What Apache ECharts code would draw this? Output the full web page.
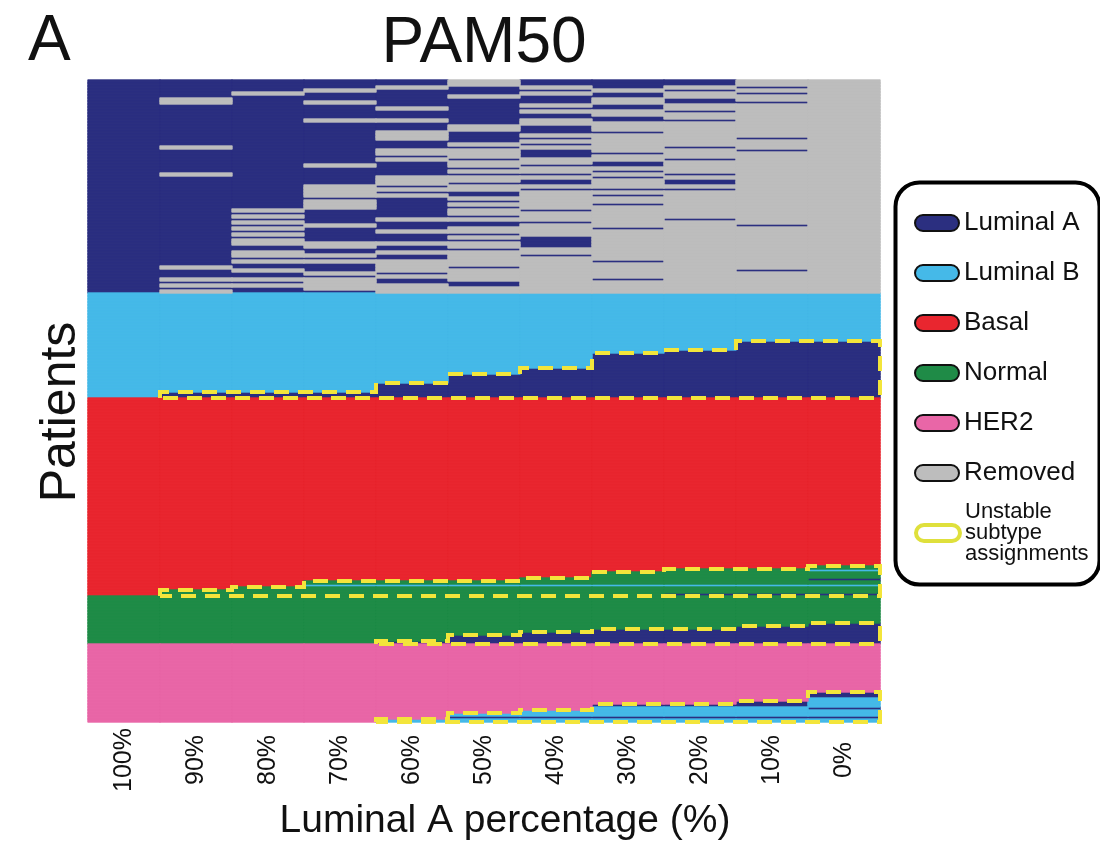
<!DOCTYPE html>
<html>
<head>
<meta charset="utf-8">
<script src="https://cdn.jsdelivr.net/npm/echarts@6/dist/echarts.min.js"></script>
<style>
  html, body { margin: 0; padding: 0; background: #ffffff; }
  #chart { width: 1100px; height: 842px; }
</style>
</head>
<body>
<div id="chart"></div>
<script>
// Resampling columns: share of Luminal A samples kept in the cohort
const columns = ['100%', '90%', '80%', '70%', '60%', '50%', '40%', '30%', '20%', '10%', '0%'];

// PAM50 calls and their colours
const subtypes = ['Luminal A', 'Luminal B', 'Basal', 'Normal', 'HER2', 'Removed'];
const subtypeColors = ['#2b2f80', '#45b9e8', '#e9262f', '#1f8b47', '#e966a7', '#bdbdbd'];
const callCodes = { A: 0, B: 1, S: 2, N: 3, H: 4 };

// Patients per original call, top to bottom (Luminal A, Luminal B, Basal, Normal, HER2)
const groupSizes = [71, 35, 66, 16, 26];

// Luminal A patients removed at each column, as row ranges inside the Luminal A group
const lumARemoved = [
  [],
  [[6, 7], [22, 22], [31, 31], [62, 62], [66, 66], [68, 68], [70, 70]],
  [[4, 4], [43, 43], [45, 45], [47, 47], [49, 49], [51, 51], [53, 54], [57, 58], [60, 60], [63, 63], [66, 66], [68, 68]],
  [[3, 3], [7, 7], [13, 13], [28, 28], [35, 38], [40, 42], [48, 48], [54, 55], [58, 58], [60, 60], [64, 64], [66, 69]],
  [[2, 2], [9, 9], [13, 13], [17, 19], [23, 24], [26, 26], [32, 34], [36, 36], [38, 38], [46, 46], [50, 50], [54, 54], [57, 57], [60, 63], [65, 65], [68, 70]],
  [[0, 1], [5, 5], [15, 16], [21, 21], [23, 25], [27, 28], [30, 30], [32, 33], [35, 36], [39, 39], [41, 41], [43, 44], [46, 46], [49, 50], [52, 52], [54, 55], [57, 61], [63, 66], [69, 70]],
  [[2, 2], [4, 4], [8, 8], [10, 10], [13, 14], [18, 18], [20, 20], [22, 22], [26, 27], [29, 30], [32, 32], [35, 35], [37, 42], [44, 46], [48, 51], [56, 57], [59, 70]],
  [[3, 3], [6, 7], [10, 11], [14, 16], [18, 23], [25, 26], [29, 29], [31, 31], [33, 35], [37, 37], [39, 40], [42, 48], [50, 59], [61, 65], [67, 70]],
  [[2, 2], [4, 5], [8, 9], [11, 12], [14, 21], [23, 25], [27, 30], [32, 32], [35, 35], [37, 45], [47, 70]],
  [[0, 1], [3, 3], [5, 6], [8, 18], [20, 22], [24, 47], [49, 62], [64, 70]],
  [[0, 70]]
];

// New calls of the bottom patients of each group at each column (top to bottom);
// A = Luminal A, B = Luminal B, N = Normal
const lumBShift = [
  '', 'AA', 'AA', 'AA', 'AAAAA', 'AAAAAAAA', 'AAAAAAAAAA',
  'AAAAAAAAAAAAAAA', 'AAAAAAAAAAAAAAAA', 'AAAAAAAAAAAAAAAAAAA', 'AAAAAAAAAAAAAAAAAAA'
];
const basalShift = [
  '', 'NN', 'NNN', 'NBNNN', 'NBNNN', 'NBNNN', 'NNBNNN',
  'NNNNBNNN', 'NNNNNBNNA', 'NNNNNBNNA', 'NBNNANBNNA'
];
const normalShift = ['', '', '', '', 'A', 'AAA', 'AAAA', 'AAAAA', 'AAAAA', 'AAAAAA', 'AAAAAAA'];
const her2Shift = ['', '', '', '', 'B', 'BAB', 'BBAB', 'ABBBAB', 'ABBBAB', 'AABBBAB', 'AABBBABBAB'];

const FONT = '"Liberation Sans", Arial, Helvetica, sans-serif';
const totalRows = groupSizes.reduce((s, v) => s + v, 0);
const rowIds = Array.from({ length: totalRows }, (_, i) => String(i));

// Cells per call, one heatmap series each
const cells = subtypes.map(() => []);
const shiftedGroups = [lumBShift, basalShift, normalShift, her2Shift];
columns.forEach((_, c) => {
  const removed = new Set();
  lumARemoved[c].forEach(([a, b]) => { for (let r = a; r <= b; r++) removed.add(r); });
  for (let r = 0; r < groupSizes[0]; r++) cells[removed.has(r) ? 5 : 0].push([c, r, 1]);
  let start = groupSizes[0];
  shiftedGroups.forEach((calls, gi) => {
    const g = gi + 1;
    const n = groupSizes[g];
    const s = calls[c];
    for (let i = 0; i < n; i++) {
      const j = i - (n - s.length);
      const t = j >= 0 ? callCodes[s[j]] : g;
      cells[t].push([c, start + i, 1]);
    }
    start += n;
  });
});

// Stepped outline around the reassigned patients of one group (column edge / row edge units)
function outline(startRow, size, calls) {
  const end = startRow + size;
  const counts = calls.map(s => s.length);
  const first = counts.findIndex(k => k > 0);
  const pts = [[first, end]];
  for (let c = first; c < columns.length; c++) {
    pts.push([c, end - counts[c]]);
    pts.push([c + 1, end - counts[c]]);
  }
  pts.push([columns.length, end]);
  pts.push([first, end]);
  return pts;
}

const heatSeries = subtypes.map((name, i) => ({
  name: name,
  type: 'heatmap',
  xAxisIndex: 0,
  yAxisIndex: 0,
  data: cells[i],
  // a thin stroke in the fill colour closes the hairline seams between cells
  itemStyle: { color: subtypeColors[i], borderColor: subtypeColors[i], borderWidth: 0.8 },
  emphasis: { disabled: true },
  progressive: 0,
  silent: true
}));

const outlineSeries = [];
let groupStart = groupSizes[0];
shiftedGroups.forEach((calls, gi) => {
  const n = groupSizes[gi + 1];
  outlineSeries.push({
    name: 'Unstable subtype assignments',
    type: 'line',
    xAxisIndex: 1,
    yAxisIndex: 1,
    data: outline(groupStart, n, calls),
    symbol: 'none',
    clip: false,
    silent: true,
    z: 5,
    lineStyle: { color: '#f3e53b', width: 4, type: [15, 9], cap: 'butt', join: 'miter' },
    itemStyle: { color: '#f3e53b' }
  });
  groupStart += n;
});

const pill = 'path://M8,0H36A8,8,0,0,1,36,16H8A8,8,0,0,1,8,0Z';

const option = {
  animation: false,
  backgroundColor: '#ffffff',
  textStyle: { fontFamily: FONT },
  title: [
    { text: 'A', left: 28, top: 10, padding: 0,
      textStyle: { fontSize: 64, fontWeight: 'normal', color: '#111', fontFamily: FONT } },
    { text: 'PAM50', left: 484, top: 12, padding: 0, textAlign: 'center',
      textStyle: { fontSize: 64, fontWeight: 'normal', color: '#111', fontFamily: FONT } }
  ],
  grid: { left: 88, top: 80, width: 792, height: 642, containLabel: false, outerBoundsMode: 'none' },
  xAxis: [
    {
      type: 'category',
      data: columns,
      position: 'bottom',
      axisLine: { show: false },
      axisTick: { show: false },
      splitLine: { show: false },
      axisLabel: {
        rotate: 90, interval: 0, margin: 38, align: 'center', verticalAlign: 'middle',
        fontSize: 25, color: '#111', fontFamily: FONT
      },
      name: 'Luminal A percentage (%)',
      nameLocation: 'middle',
      nameGap: 80,
      nameMoveOverlap: false,
      nameTextStyle: { fontSize: 39, color: '#111', fontFamily: FONT, padding: [0, 0, 0, 42] }
    },
    { type: 'value', min: 0, max: columns.length, show: false }
  ],
  yAxis: [
    {
      type: 'category',
      data: rowIds,
      inverse: true,
      axisLine: { show: false },
      axisTick: { show: false },
      axisLabel: { show: false },
      splitLine: { show: false },
      name: 'Patients',
      nameLocation: 'middle',
      nameRotate: 90,
      nameGap: 2,
      nameMoveOverlap: false,
      nameTextStyle: { fontSize: 50, color: '#111', fontFamily: FONT, padding: [0, 22, 0, 0] }
    },
    { type: 'value', min: 0, max: totalRows, inverse: true, show: false }
  ],
  legend: [
    {
      data: subtypes,
      orient: 'vertical',
      left: 909,
      top: 205,
      itemWidth: 44,
      itemHeight: 16,
      itemGap: 24,
      icon: pill,
      selectedMode: false,
      itemStyle: { borderColor: '#111', borderWidth: 2 },
      textStyle: { fontSize: 26, lineHeight: 25, color: '#111', fontFamily: FONT }
    },
    {
      data: [{
        name: 'Unstable subtype assignments',
        icon: pill,
        itemStyle: { color: 'rgba(255,255,255,0)', borderColor: '#dfe03c', borderWidth: 4 }
      }],
      orient: 'vertical',
      left: 909,
      top: 496,
      itemWidth: 44,
      itemHeight: 16,
      selectedMode: false,
      formatter: () => 'Unstable\nsubtype\nassignments',
      textStyle: { fontSize: 22, lineHeight: 21, color: '#111', fontFamily: FONT }
    }
  ],
  graphic: [
    {
      type: 'rect',
      left: 893,
      top: 180,
      shape: { width: 204, height: 402, r: 24 },
      style: { fill: 'none', stroke: '#000', lineWidth: 4 },
      z: 1,
      silent: true
    }
  ],
  series: heatSeries.concat(outlineSeries)
};

const chart = echarts.init(document.getElementById('chart'), null, { renderer: 'canvas' });
chart.setOption(option);
</script>
</body>
</html>
